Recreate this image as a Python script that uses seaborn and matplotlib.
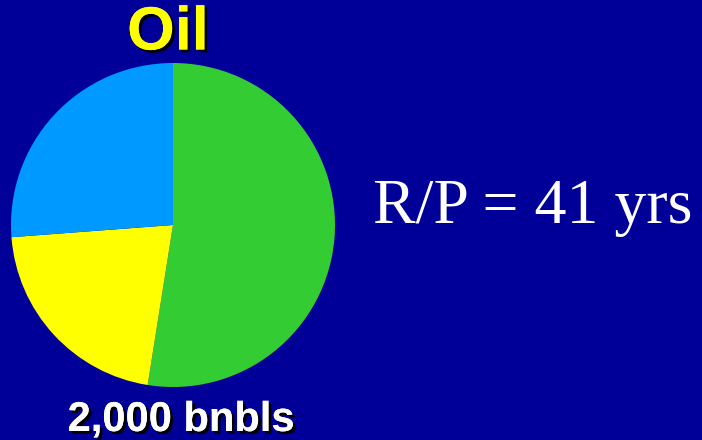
import matplotlib
matplotlib.use("Agg")
import matplotlib.pyplot as plt
import matplotlib.patheffects as pe
import seaborn as sns

# --- data (share of reserves, clockwise from top) ---
labels = ["green", "yellow", "blue"]
shares = [52.5, 21.3, 26.2]
colors = ["#33CC33", "#FFFF00", "#0099FF"]

title_text = "Oil"
total_text = "2,000 bnbls"
rp_text = "R/P = 41 yrs"

bg = "#000099"

sns.set_style("white")

fig = plt.figure(figsize=(7.02, 4.40), dpi=100)
fig.patch.set_facecolor(bg)

# pie axes: centre ~ (173, 225) px, radius ~162 px
ax = fig.add_axes([11 / 702, 53 / 440, 324 / 702, 324 / 440])
ax.set_facecolor(bg)
ax.pie(shares, colors=colors, startangle=90, counterclock=False,
       radius=1.0, wedgeprops=dict(linewidth=0))
ax.set_xlim(-1, 1)
ax.set_ylim(-1, 1)
ax.set_aspect("equal")
ax.axis("off")

shadow = [pe.withSimplePatchShadow(offset=(2, -2), shadow_rgbFace="black", alpha=1.0),
          pe.Normal()]

fig.text(168 / 702, 1 - 34 / 440, title_text, color="#FFFF00", fontsize=44,
         fontweight="bold", family="Liberation Sans", ha="center", va="center",
         path_effects=shadow)

fig.text(181 / 702, 1 - 431 / 440, total_text, color="white", fontsize=30,
         fontweight="bold", family="Liberation Sans", ha="center", va="baseline",
         path_effects=shadow)

fig.text(533 / 702, 1 - 223 / 440, rp_text, color="white", fontsize=46,
         family="Liberation Serif", ha="center", va="baseline")

fig.savefig("out.png", dpi=100, facecolor=bg)
